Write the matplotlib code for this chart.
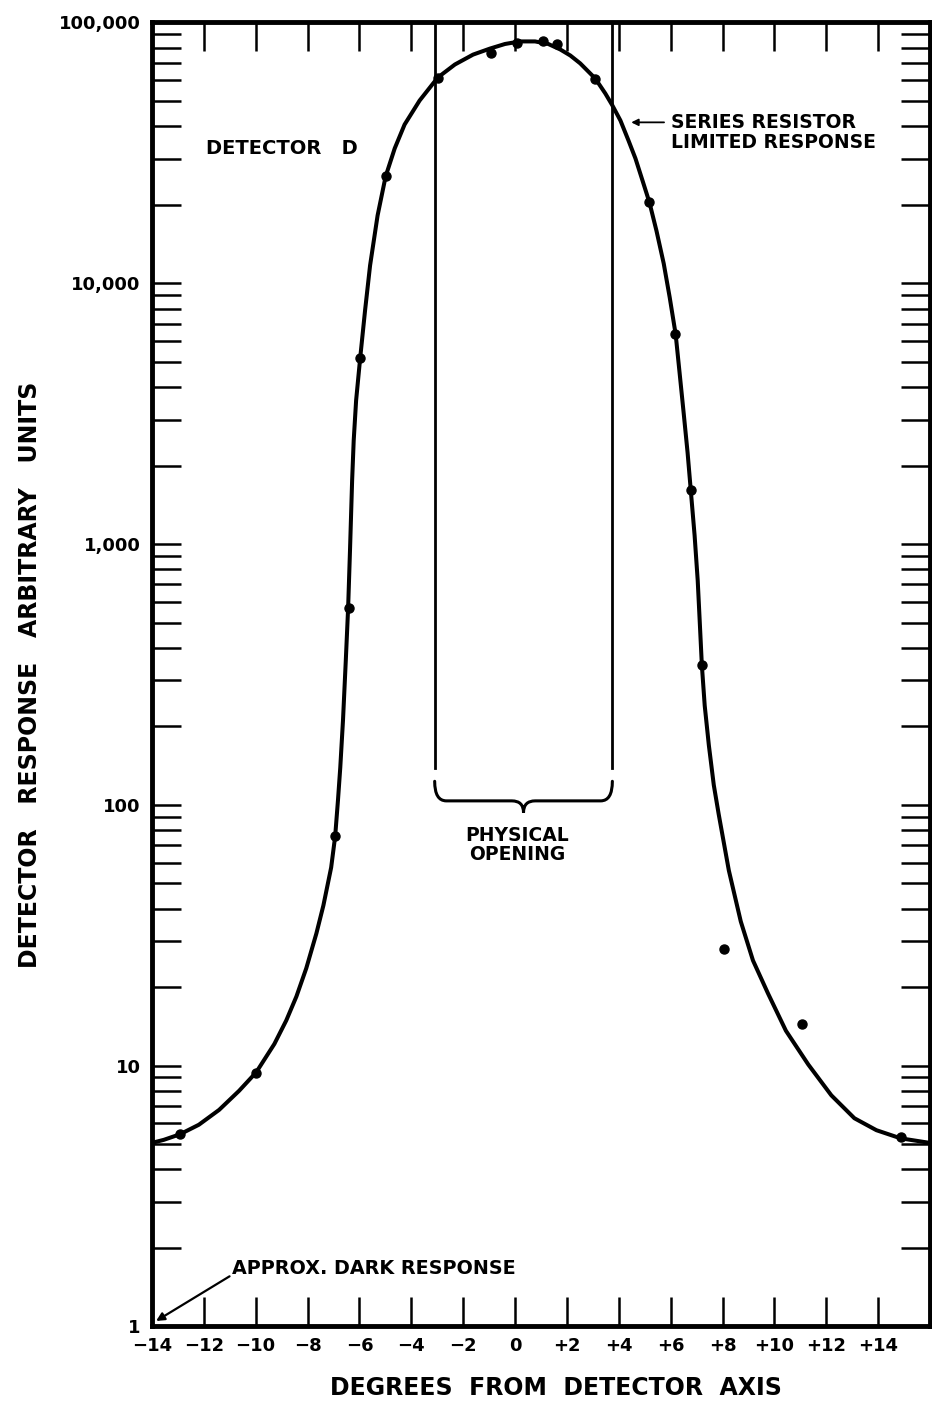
import numpy as np
import matplotlib
matplotlib.use("Agg")
import matplotlib.pyplot as plt
from matplotlib.path import Path
from matplotlib.patches import PathPatch
from matplotlib.transforms import blended_transform_factory
from matplotlib.ticker import FixedLocator, LogLocator, NullFormatter

plt.rcParams.update({"font.family": "DejaVu Sans", "font.weight": "bold"})

# ── measured points (degrees, response) ──────────────────────────────────────
pt_deg = [-12.9, -10.0, -6.95, -6.42, -5.96, -4.99, -2.98, -0.94, 0.07, 1.07,
          1.61, 3.09, 5.18, 6.18, 6.77, 7.2, 8.05, 11.05, 14.86]
pt_val = [5.45, 9.4, 76, 566, 5150, 25700, 61500, 76200, 83300, 84700,
          82400, 60800, 20500, 6370, 1615, 343, 28, 14.4, 5.3]

# ── hand-drawn fitted curve ──────────────────────────────────────────────────
cv_deg = [-14.04, -13.54, -12.92, -12.19, -11.41, -10.64, -9.98, -9.28, -8.82,
          -8.43, -8.05, -7.66, -7.39, -7.09, -6.936, -6.828, -6.739, -6.634,
          -6.526, -6.437, -6.364, -6.282, -6.221, -6.128, -5.973, -5.783,
          -5.590, -5.300, -4.99,
          -4.64, -4.26, -3.68, -2.98, -2.32, -1.62, -0.97, -0.39, 0.19, 0.77,
          1.28, 1.74, 2.13, 2.51, 3.09, 3.48, 3.75, 4.06, 4.37, 4.64, 4.91,
          5.18, 5.45, 5.73, 5.96, 6.19, 6.34, 6.50, 6.65, 6.77, 6.92, 7.04,
          7.12, 7.20, 7.31, 7.47, 7.66, 7.85, 8.24, 8.70, 9.17, 9.75, 10.44,
          11.30, 12.19, 13.08, 13.93, 14.86, 16.05]
cv_val = [5.04, 5.19, 5.45, 5.93, 6.76, 8.00, 9.42, 12.1, 14.9,
          18.4, 23.6, 32.1, 41.1, 57.5, 75.7, 104, 139, 211,
          358, 566, 945, 1754, 2497, 3556, 5150, 7870,
          11700, 18200, 25700,
          32900, 40600, 50200, 61500, 69000, 75300, 79400, 82700, 84600, 84600,
          82700, 78800, 74700, 69700, 61000, 53400, 48100, 42100, 35300, 30100, 24800,
          20400, 15900, 11900, 8830, 6370, 4550, 3170, 2240, 1620, 1080, 725,
          500, 343, 240, 169, 119, 91.9, 56.0, 35.7, 25.3, 18.9, 13.6,
          10.1, 7.69, 6.28, 5.65, 5.26, 5.04]

opening_deg = [-3.1, 3.75]
xtick_pos = list(range(-14, 15, 2))
xtick_lab = ["−14", "−12", "−10", "−8", "−6", "−4", "−2", "0",
             "+2", "+4", "+6", "+8", "+10", "+12", "+14"]
ytick_pos = [1, 10, 100, 1000, 10000, 100000]
ytick_lab = ["1", "10", "100", "1,000", "10,000", "100,000"]

fig = plt.figure(figsize=(9.32, 14.05), dpi=100)
ax = fig.add_axes([0.163, 0.056, 0.835, 0.928])
ax.set_yscale("log")
ax.set_xlim(-14, 16)
ax.set_ylim(1, 100000)

ax.plot(cv_deg, cv_val, color="black", lw=2.9, solid_capstyle="round",
        solid_joinstyle="round", zorder=3)
ax.plot(pt_deg, pt_val, "o", color="black", ms=6.5, zorder=4)

# physical opening lines + brace
for xd in opening_deg:
    ax.axvline(xd, ymin=0.428, ymax=1, color="black", lw=2.0)
bt = blended_transform_factory(ax.transData, ax.transAxes)
xl, xr = opening_deg
xc = (xl + xr) / 2
verts = [(xl, 0.418), (xl, 0.403), (xl + 0.45, 0.403), (xc - 0.45, 0.403),
         (xc, 0.403), (xc, 0.394), (xc, 0.403), (xc + 0.45, 0.403),
         (xr - 0.45, 0.403), (xr, 0.403), (xr, 0.418)]
codes = [Path.MOVETO, Path.CURVE3, Path.CURVE3, Path.LINETO, Path.CURVE3,
         Path.CURVE3, Path.CURVE3, Path.CURVE3, Path.LINETO, Path.CURVE3,
         Path.CURVE3]
ax.add_patch(PathPatch(Path(verts, codes), transform=bt, fill=False,
                       lw=2.2, color="black", capstyle="round"))
ax.text(xc - 0.25, 0.384, "PHYSICAL\nOPENING", transform=bt, ha="center",
        va="top", fontsize=13.5, fontweight="bold", linespacing=1.05)

# annotations
ax.text(-11.9, 32900, "DETECTOR   D", fontsize=14, fontweight="bold",
        va="center", ha="left")
ax.annotate("", xy=(4.37, 41400), xytext=(5.85, 41400),
            arrowprops=dict(arrowstyle="-|>", color="black", lw=1.3,
                            mutation_scale=10))
ax.text(6.0, 44800, "SERIES RESISTOR\nLIMITED RESPONSE", fontsize=13.5,
        fontweight="bold", va="top", ha="left", linespacing=1.05)
ax.annotate("APPROX. DARK RESPONSE", xy=(-13.93, 1.035), xytext=(-10.9, 1.66),
            fontsize=13.8, fontweight="bold", va="center", ha="left",
            arrowprops=dict(arrowstyle="-|>", color="black", lw=1.6,
                            mutation_scale=12, shrinkA=0,
                            relpos=(0, 0.2)))

# axes styling
for s in ax.spines.values():
    s.set_linewidth(3.5)
ax.xaxis.set_major_locator(FixedLocator(xtick_pos))
ax.set_xticklabels(xtick_lab)
ax.yaxis.set_major_locator(FixedLocator(ytick_pos))
ax.set_yticklabels(ytick_lab)
ax.yaxis.set_minor_locator(LogLocator(base=10, subs=np.arange(2, 10)))
ax.yaxis.set_minor_formatter(NullFormatter())
ax.tick_params(axis="both", which="both", direction="in", length=21,
               width=1.8, top=True, right=True, pad=8, labelsize=13)
for lab in ax.get_xticklabels() + ax.get_yticklabels():
    lab.set_fontweight("bold")

ax.set_xlabel("DEGREES  FROM  DETECTOR  AXIS", fontsize=17, fontweight="bold")
ax.xaxis.set_label_coords(0.519, -0.038)
ax.set_ylabel("DETECTOR   RESPONSE   ARBITRARY   UNITS", fontsize=17,
              fontweight="bold", labelpad=12)

fig.savefig("out.png", dpi=100, facecolor="white")
